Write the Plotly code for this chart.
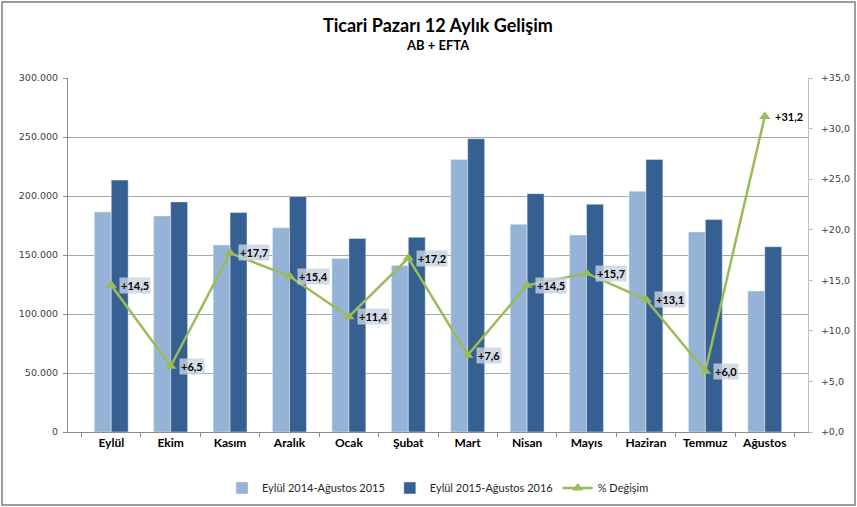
import plotly.graph_objects as go

months = ["Eylül", "Ekim", "Kasım", "Aralık", "Ocak", "Şubat", "Mart", "Nisan", "Mayıs", "Haziran", "Temmuz", "Ağustos"]
period_1 = [186500, 183000, 158500, 173000, 147000, 141000, 231000, 176000, 167000, 204000, 169500, 119500]
period_2 = [213500, 195000, 186000, 199500, 164000, 165000, 248500, 202000, 193000, 231000, 180000, 157000]
pct_change = [14.5, 6.5, 17.7, 15.4, 11.4, 17.2, 7.6, 14.5, 15.7, 13.1, 6.0, 31.2]

name_1 = "Eylül 2014-Ağustos 2015"
name_2 = "Eylül 2015-Ağustos 2016"
name_3 = "% Değişim"

title_text = "Ticari Pazarı 12 Aylık Gelişim"
subtitle_text = "AB + EFTA"

left_ticks = [0, 50000, 100000, 150000, 200000, 250000, 300000]
left_labels = ["0", "50.000", "100.000", "150.000", "200.000", "250.000", "300.000"]
right_ticks = [0, 5, 10, 15, 20, 25, 30, 35]
right_labels = ["+0,0", "+5,0", "+10,0", "+15,0", "+20,0", "+25,0", "+30,0", "+35,0"]

LIGHT = "#95B3D7"
DARK = "#366092"
GREEN = "#9BBB59"
FONT = "Lato, Open Sans, sans-serif"
TICKFONT = "DejaVu Sans, Verdana, sans-serif"

fig = go.Figure()
fig.add_trace(go.Bar(x=months, y=period_1, name=name_1, marker_color=LIGHT, yaxis="y"))
fig.add_trace(go.Bar(x=months, y=period_2, name=name_2, marker_color=DARK, yaxis="y"))
fig.add_trace(go.Scatter(x=months, y=pct_change, name=name_3, yaxis="y2", mode="lines+markers",
                         line=dict(color=GREEN, width=2.5),
                         marker=dict(symbol="triangle-up", size=10, color=GREEN)))

annotations = [
    dict(text="<b>" + title_text + "</b>", xref="paper", yref="paper", x=0.5, y=1.1497,
         xanchor="center", yanchor="middle", showarrow=False, font=dict(family=FONT, size=18, color="black")),
    dict(text="<b>" + subtitle_text + "</b>", xref="paper", yref="paper", x=0.5, y=1.0932,
         xanchor="center", yanchor="middle", showarrow=False, font=dict(family=FONT, size=13, color="black")),
]
for m, v in zip(months, pct_change):
    annotations.append(dict(
        x=m, y=v, xref="x", yref="y2", text="<b>+" + f"{v:.1f}".replace(".", ",") + "</b>",
        showarrow=False, xanchor="left", yanchor="middle", xshift=8,
        font=dict(family=FONT, size=11, color="black"),
        bgcolor="rgba(200,210,225,0.8)" if v < 30 else "rgba(0,0,0,0)", borderpad=1,
    ))

fig.update_layout(
    width=857, height=507,
    margin=dict(l=68, r=49, t=78, b=75, autoexpand=False),
    paper_bgcolor="white", plot_bgcolor="white",
    barmode="group", bargap=0.43, bargroupgap=0,
    xaxis=dict(type="category", showline=True, linecolor="#8C8C8C", ticks="outside", tickcolor="#8C8C8C",
               ticklen=4, tickson="boundaries", automargin=False,
               tickfont=dict(family=FONT, size=12, color="black", weight="bold")),
    yaxis=dict(range=[0, 300000], tickvals=left_ticks, ticktext=left_labels, showline=True, linecolor="#8C8C8C",
               ticks="outside", tickcolor="#8C8C8C", ticklen=4, showgrid=True, gridcolor="#A6A6A6",
               zeroline=False, automargin=False, ticklabelstandoff=3,
               tickfont=dict(family=TICKFONT, size=9.5, color="#404040")),
    yaxis2=dict(range=[0, 35], tickvals=right_ticks, ticktext=right_labels, overlaying="y", side="right",
                showline=True, linecolor="#BFBFBF", ticks="outside", tickcolor="#BFBFBF", ticklen=4,
                showgrid=False, zeroline=False, automargin=False, ticklabelstandoff=6,
                tickfont=dict(family=TICKFONT, size=9.5, color="#404040")),
    legend=dict(orientation="h", x=0.5, xanchor="center", y=-0.158, yanchor="middle",
                font=dict(family=FONT, size=11, color="#262626"),
                traceorder="normal"),
    annotations=annotations,
    shapes=[dict(type="rect", xref="paper", yref="paper", x0=-0.0892, x1=1.0635, y0=-0.206, y1=1.2147,
                 line=dict(color="#7F7F7F", width=1.5), fillcolor="rgba(0,0,0,0)", layer="below")],
)

fig.write_html("out.html", config={"displayModeBar": False},
               post_script="document.body.style.margin='0';")
